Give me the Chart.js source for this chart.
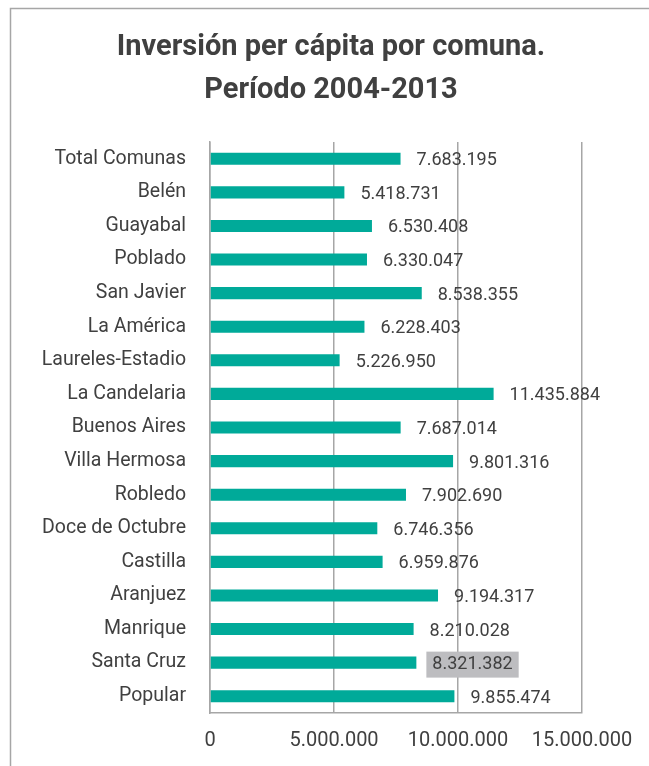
<!DOCTYPE html>
<html>
<head>
<meta charset="utf-8">
<script src="https://cdn.jsdelivr.net/npm/chart.js@4/dist/chart.umd.min.js"></script>
<style>
  html, body { margin: 0; padding: 0; background: #fff; }
  #wrap { position: relative; width: 649px; height: 766px; }
</style>
</head>
<body>
<div id="wrap"><canvas id="canvas" width="649" height="766"></canvas></div>
<script>
const comunas = [
  'Total Comunas', 'Belén', 'Guayabal', 'Poblado', 'San Javier', 'La América',
  'Laureles-Estadio', 'La Candelaria', 'Buenos Aires', 'Villa Hermosa', 'Robledo',
  'Doce de Octubre', 'Castilla', 'Aranjuez', 'Manrique', 'Santa Cruz', 'Popular'
];
const inversion = [
  7683195, 5418731, 6530408, 6330047, 8538355, 6228403,
  5226950, 11435884, 7687014, 9801316, 7902690,
  6746356, 6959876, 9194317, 8210028, 8321382, 9855474
];
const xTicks = [0, 5000000, 10000000, 15000000];
const titleLines = ['Inversión per cápita por comuna.', 'Período 2004-2013'];
const highlighted = 'Santa Cruz';

const FONT = 'Roboto, "Noto Sans", sans-serif';
const TXT = '#404040';

const fmt = (n) => n.toString().replace(/\B(?=(\d{3})+(?!\d))/g, '.');

// outer frame (left + top edges visible) and the two-line title
const framePlugin = {
  id: 'frame',
  beforeDraw(chart) {
    const ctx = chart.ctx;
    ctx.save();
    ctx.strokeStyle = '#a6a6a6';
    ctx.lineWidth = 1.5;
    ctx.beginPath();
    ctx.moveTo(10.5, 766);
    ctx.lineTo(10.5, 8.5);
    ctx.lineTo(649, 8.5);
    ctx.stroke();

    ctx.fillStyle = TXT;
    ctx.font = 'bold 29px ' + FONT;
    ctx.textAlign = 'center';
    ctx.textBaseline = 'middle';
    titleLines.forEach((line, i) => {
      ctx.fillText(line, 331, 48 + i * 43);
    });
    ctx.restore();
  }
};

// value labels to the right of each bar
const valueLabels = {
  id: 'valueLabels',
  afterDatasetsDraw(chart) {
    const ctx = chart.ctx;
    const meta = chart.getDatasetMeta(0);
    ctx.save();
    ctx.font = '18px ' + FONT;
    ctx.textBaseline = 'middle';
    ctx.textAlign = 'left';
    meta.data.forEach((bar, i) => {
      const text = fmt(inversion[i]);
      const x = bar.x + 16;
      const y = bar.y + 2;
      if (comunas[i] === highlighted) {
        const w = ctx.measureText(text).width;
        ctx.fillStyle = '#bdbdc0';
        ctx.fillRect(x - 6, y - 13, w + 12, 26);
      }
      ctx.fillStyle = TXT;
      ctx.fillText(text, x, y);
    });
    ctx.restore();
  }
};

const config = {
  type: 'bar',
  data: {
    labels: comunas,
    datasets: [
      {
        data: inversion,
        backgroundColor: '#00aa99',
        borderWidth: 0,
        barPercentage: 0.72,
        categoryPercentage: 0.5,
      },
    ],
  },
  options: {
    indexAxis: 'y',
    responsive: false,
    animation: false,
    layout: {
      padding: { left: 0, right: 67, top: 142, bottom: 13 },
    },
    plugins: {
      legend: { display: false },
      tooltip: { enabled: false },
      title: { display: false },
    },
    scales: {
      x: {
        min: 0,
        max: 15000000,
        afterBuildTicks(scale) {
          scale.ticks = xTicks.map((v) => ({ value: v }));
        },
        afterFit(scale) {
          scale.height = 40;
        },
        ticks: {
          color: TXT,
          font: { family: FONT, size: 20 },
          padding: 16,
          maxRotation: 0,
          callback: (v) => fmt(v),
        },
        grid: {
          color: '#a6a6a6',
          lineWidth: 1.5,
          drawTicks: false,
        },
        border: { display: true, color: '#a6a6a6', width: 1.5 },
      },
      y: {
        afterFit(scale) {
          scale.width = 210;
        },
        ticks: {
          color: TXT,
          font: { family: FONT, size: 19.5 },
          padding: 24,
        },
        grid: { display: false, drawTicks: false },
        border: { display: true, color: '#a6a6a6', width: 1.5 },
      },
    },
  },
  plugins: [framePlugin, valueLabels],
};

const ctx = document.getElementById('canvas').getContext('2d');
window.myBar = new Chart(ctx, config);
</script>
</body>
</html>
